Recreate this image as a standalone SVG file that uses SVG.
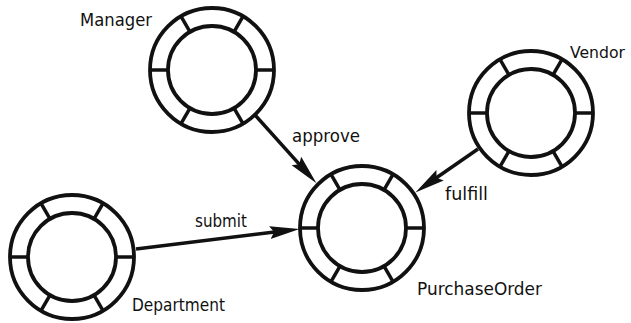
<svg xmlns="http://www.w3.org/2000/svg" xmlns:xlink="http://www.w3.org/1999/xlink" width="631" height="323" viewBox="0 0 631 323">
<style>
.ring{fill:none;stroke:#111;stroke-width:3.8}
.spoke{stroke:#111;stroke-width:3.5}
.edge{stroke:#111;stroke-width:3.5;fill:none}
.lbl{font-family:"DejaVu Sans","Liberation Sans",sans-serif;font-size:17px;fill:#111}
</style>
<defs>
<g id="wheel">
<circle class="ring" cx="0" cy="0" r="62"/>
<circle class="ring" cx="0" cy="0" r="44"/>
<line class="spoke" x1="44" y1="0" x2="62" y2="0"/>
<line class="spoke" x1="-44" y1="0" x2="-62" y2="0"/>
<line class="spoke" x1="22" y1="38.1" x2="31" y2="53.7"/>
<line class="spoke" x1="-22" y1="38.1" x2="-31" y2="53.7"/>
<line class="spoke" x1="22" y1="-38.1" x2="31" y2="-53.7"/>
<line class="spoke" x1="-22" y1="-38.1" x2="-31" y2="-53.7"/>
</g>
<marker id="arrow" markerUnits="userSpaceOnUse" markerWidth="30" markerHeight="14" viewBox="0 0 28 12" refX="18" refY="6" orient="auto">
<path d="M0,0 L28,6 L0,12 L4,6 z" fill="#111"/>
</marker>
</defs>
<g id="connectors">
<line class="edge" x1="255" y1="115" x2="309.3" y2="175.4" marker-end="url(#arrow)"/>
<text class="lbl" x="292" y="142" textLength="68" lengthAdjust="spacingAndGlyphs">approve</text>
<line class="edge" x1="478" y1="149" x2="424.2" y2="186.3" marker-end="url(#arrow)"/>
<text class="lbl" x="445" y="200" textLength="43" lengthAdjust="spacingAndGlyphs">fulfill</text>
<line class="edge" x1="136" y1="249" x2="289" y2="230.2" marker-end="url(#arrow)"/>
<text class="lbl" x="195" y="227" textLength="52" lengthAdjust="spacingAndGlyphs">submit</text>
</g>
<g id="Manager">
<use xlink:href="#wheel" transform="translate(212,70)"/>
<text class="lbl" x="80" y="26" textLength="72" lengthAdjust="spacingAndGlyphs">Manager</text>
</g>
<g id="Vendor">
<use xlink:href="#wheel" transform="translate(531,113)"/>
<text class="lbl" x="570" y="58" font-size="16" style="font-size:16px" textLength="55" lengthAdjust="spacingAndGlyphs">Vendor</text>
</g>
<g id="Department">
<use xlink:href="#wheel" transform="translate(72,257)"/>
<text class="lbl" x="132" y="311" textLength="93" lengthAdjust="spacingAndGlyphs">Department</text>
</g>
<g id="PurchaseOrder">
<use xlink:href="#wheel" transform="translate(362,228)"/>
<text class="lbl" x="417" y="295" textLength="125" lengthAdjust="spacingAndGlyphs">PurchaseOrder</text>
</g>
</svg>
